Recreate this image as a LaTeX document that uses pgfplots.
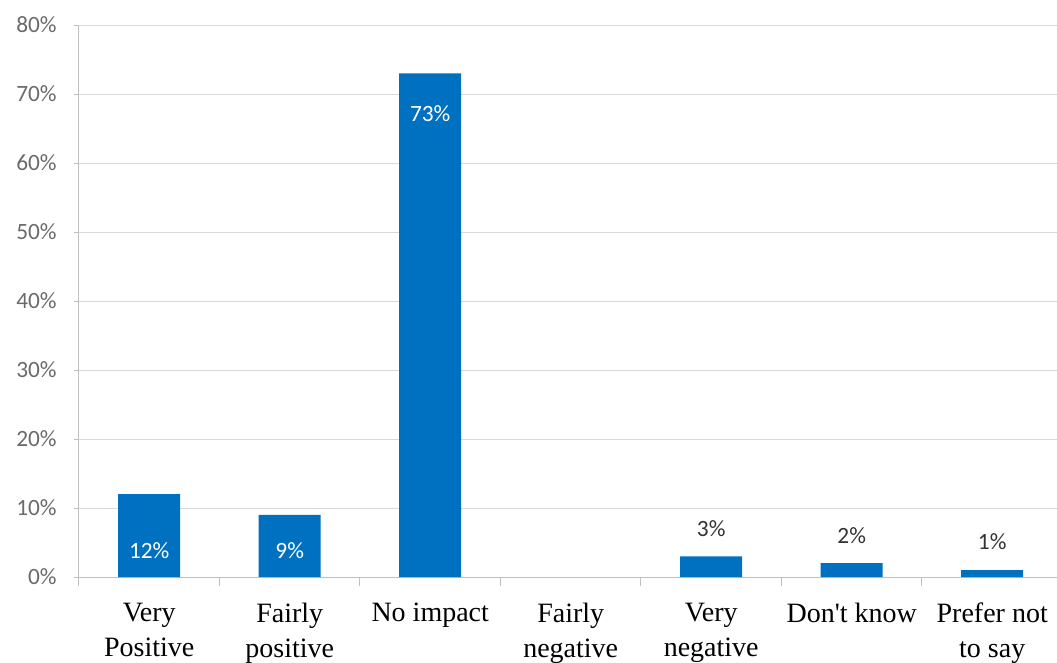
\documentclass[border=0pt]{standalone}
\usepackage{pgfplots}
\usepackage{pgfplotstable}
\pgfplotsset{compat=1.18}
\usepackage{fontspec}
\setmainfont{Liberation Serif}
\newfontfamily\calib{Carlito}

\definecolor{barblue}{HTML}{0070C0}
\definecolor{gridgray}{HTML}{D9D9D9}
\definecolor{axisgray}{HTML}{BFBFBF}
\definecolor{ticktext}{HTML}{6A6A6A}

% share of responses (%); dy = label offset from the bar top (pt)
\pgfplotstableread{
x y dy
0 12 -42
1 9 -27
2 73 -30
}\insidelabels
\pgfplotstableread{
x y dy
4 3 21
5 2 21
6 1 21
}\outsidelabels

\begin{document}
\begin{tikzpicture}
\begin{axis}[
  at={(0,0)}, anchor=south west,
  scale only axis, width=737.6pt, height=414pt,
  xmin=-0.5, xmax=6.5, ymin=0, ymax=80,
  /pgf/number format/assume math mode=true,
  axis x line*=bottom, axis y line*=left,
  axis line style={axisgray, line width=0.75pt, -},
  ymajorgrids, grid style={gridgray, line width=0.75pt},
  ytick={0,10,...,80},
  yticklabel={\pgfmathparse{int(\tick)}\pgfmathresult\%},
  yticklabel style={font=\calib\fontsize{17.5}{20}\selectfont, text=ticktext, xshift=-9.5pt},
  xtick={0,...,6},
  xticklabels={{Very\\Positive},{Fairly\\positive},{No impact},{Fairly\\negative},{Very\\negative},{Don\textquotesingle t know},{Prefer not\\to say}},
  xticklabel style={font=\fontsize{21}{26.25}\selectfont, align=center, text=black, yshift=-12pt},
  minor xtick={-0.5,0.5,...,6.5},
  tick align=outside,
  major tick length=3.75pt, minor tick length=6.75pt,
  major x tick style={draw=none},
  tick style={axisgray, line width=0.75pt},
  nodes near coords={\pgfmathprintnumber{\pgfplotspointmeta}\%},
  every node near coord/.append style={font=\calib\fontsize{17.5}{20}\selectfont, anchor=center},
]
\addplot[ybar, bar width=46.5pt, bar shift=0pt, fill=barblue, draw=none,
  visualization depends on={\thisrow{dy} \as \dy},
  nodes near coords style={text=white, yshift=\dy pt}]
  table[x=x, y=y] {\insidelabels};
\addplot[ybar, bar width=46.5pt, bar shift=0pt, fill=barblue, draw=none,
  visualization depends on={\thisrow{dy} \as \dy},
  nodes near coords style={text=black!80, yshift=\dy pt}]
  table[x=x, y=y] {\outsidelabels};
\end{axis}
\pgfresetboundingbox
\path[use as bounding box] (-59.25pt,-63.75pt) rectangle (733.5pt,432.75pt);
\end{tikzpicture}
\end{document}
